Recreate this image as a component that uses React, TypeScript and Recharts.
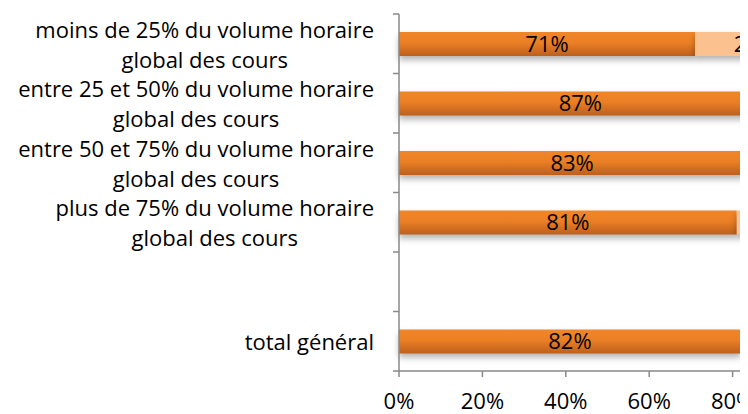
import { Bar, BarChart, LabelList, XAxis, YAxis } from "recharts";

const categories = [
    "moins de 25% du volume horaire\nglobal des cours",
    "entre 25 et 50% du volume horaire\nglobal des cours",
    "entre 50 et 75% du volume horaire\nglobal des cours",
    "plus de 75% du volume horaire\nglobal des cours",
    " ",
    "total général",
];
const partValues = [71, 87, 83, 81, null, 82];
const resteValues = [29, 13, 17, 19, null, 18];
const xTicks = [0, 20, 40, 60, 80, 100];

const data = categories.map((name, i) => ({
    name,
    part: partValues[i],
    reste: resteValues[i],
}));

const FONT = "'Open Sans', sans-serif";
const FONT_SIZE = 22;
const AXIS_COLOR = "#898989";

const MARGIN = { top: 6, right: 32, bottom: 0, left: 0 };
const X_AXIS_H = 45;
const Y_AXIS_W = 391;
const PLOT_H = 357;
const CHART_W = 840;
const CHART_H = PLOT_H + MARGIN.top + X_AXIS_H;
const BAND = PLOT_H / categories.length;

let ctx: CanvasRenderingContext2D | null = null;
const measure = (text: string) => {
    if (!ctx) ctx = document.createElement("canvas").getContext("2d");
    if (!ctx) return text.length * FONT_SIZE * 0.5;
    ctx.font = `${FONT_SIZE}px 'Open Sans'`;
    return ctx.measureText(text).width;
};

// two-line labels: first line right aligned, second centred under it
const CategoryTick = (props: any) => {
    const { x, y, payload, index } = props;
    const lines: string[] = String(payload.value).split("\n");
    const right = x - 17;
    const w = measure(lines[0]);
    const lineH = 30;
    const startY = y - ((lines.length - 1) * lineH) / 2;
    return (
        <g>
            <line x1={x + 2} x2={x + 8} y1={y - BAND / 2} y2={y - BAND / 2} stroke={AXIS_COLOR} strokeWidth={1.5} />
            {index === categories.length - 1 && (
                <line x1={x + 2} x2={x + 8} y1={y + BAND / 2} y2={y + BAND / 2} stroke={AXIS_COLOR} strokeWidth={1.5} />
            )}
            {lines.map((line, i) => (
                <text
                    key={i}
                    x={lines.length > 1 ? right - w / 2 : right}
                    y={startY + i * lineH}
                    textAnchor={lines.length > 1 ? "middle" : "end"}
                    dominantBaseline="central"
                    fontFamily={FONT}
                    fontSize={FONT_SIZE}
                    fill="#000"
                >
                    {line}
                </text>
            ))}
        </g>
    );
};

const pct = (v: any) => (v == null ? "" : `${v}%`);

const App = () => {
    return (
        <div style={{ width: 740, height: 406, overflow: "hidden", background: "#fff", position: "relative" }}>
            <style>{`.shadow-bar .recharts-rectangle { filter: drop-shadow(0px 4px 3px rgba(0,0,0,0.3)); }`}</style>
            <svg width={0} height={0} style={{ position: "absolute" }}>
                <defs>
                    <linearGradient id="orangeGrad" x1="0" y1="0" x2="0" y2="1">
                        <stop offset="0%" stopColor="#f08628" />
                        <stop offset="45%" stopColor="#ea7f25" />
                        <stop offset="100%" stopColor="#bd5f1d" />
                    </linearGradient>
                </defs>
            </svg>
            <BarChart
                width={CHART_W}
                height={CHART_H}
                data={data}
                layout="vertical"
                margin={MARGIN}
            >
                <XAxis
                    type="number"
                    domain={[0, 100]}
                    ticks={xTicks}
                    tickFormatter={(v) => `${v}%`}
                    height={X_AXIS_H}
                    stroke={AXIS_COLOR}
                    strokeWidth={1.5}
                    tickSize={6}
                    tickMargin={16}
                    tick={{ fill: "#000", fontSize: FONT_SIZE, fontFamily: FONT }}
                />
                <YAxis
                    type="category"
                    dataKey="name"
                    width={Y_AXIS_W}
                    stroke={AXIS_COLOR}
                    strokeWidth={1.5}
                    tickLine={false}
                    interval={0}
                    tick={<CategoryTick />}
                />
                <Bar dataKey="part" stackId="a" barSize={24} className="shadow-bar" fill="url(#orangeGrad)" isAnimationActive={false}>
                    <LabelList dataKey="part" position="center" formatter={pct} fill="#000" fontSize={FONT_SIZE} fontFamily={FONT} />
                </Bar>
                <Bar dataKey="reste" stackId="a" barSize={24} className="shadow-bar" fill="#fbc290" isAnimationActive={false}>
                    <LabelList dataKey="reste" position="center" formatter={pct} fill="#000" fontSize={FONT_SIZE} fontFamily={FONT} />
                </Bar>
            </BarChart>
        </div>
    );
};

export default App;
